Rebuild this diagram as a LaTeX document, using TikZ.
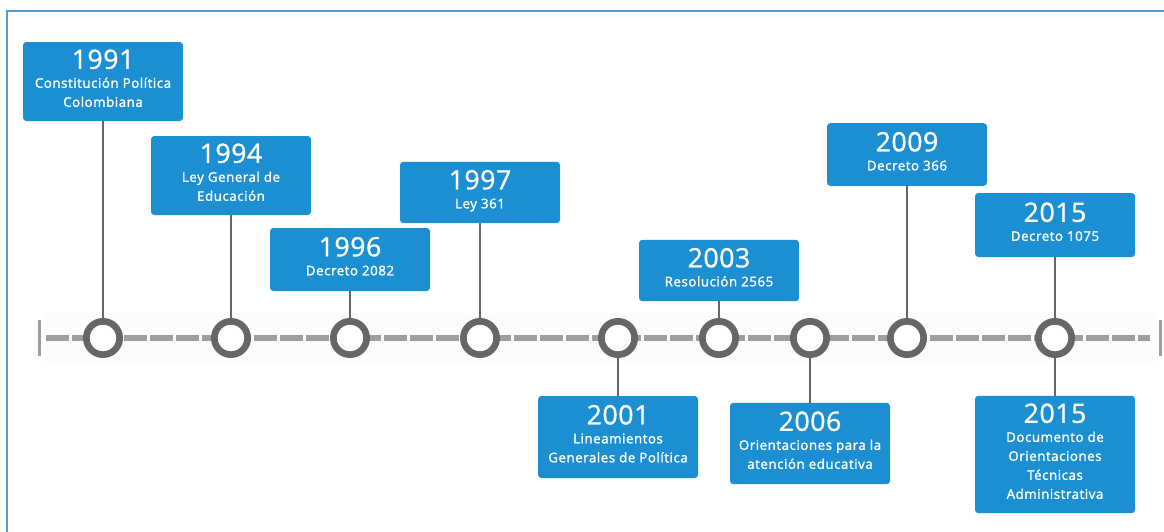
\documentclass[tikz,border=0pt]{standalone}
\usepackage{fontspec}
\setmainfont{Open Sans}
\newfontfamily\letraanio{Open Sans}[FakeBold=1.1, LetterSpace=2]
\newfontfamily\letracaja{Open Sans}[FakeBold=1.6, LetterSpace=4]
\usetikzlibrary{positioning}
\definecolor{azul}{RGB}{27,143,209}
\definecolor{gris}{RGB}{158,158,158}
\definecolor{grisosc}{RGB}{102,102,102}
\definecolor{marco}{RGB}{91,155,213}
\newcommand{\anio}[1]{{\fontsize{20}{22}\letraanio\selectfont #1}}
\tikzset{
    caja/.style={
           rectangle,
           rounded corners=2.5pt,
           fill=azul, text=white,
           minimum width=120pt,
           inner sep=2pt,
           align=center,
           execute at end node={\rule[-5pt]{0pt}{0pt}},
           font=\fontsize{10}{14.25}\letracaja\selectfont},
    punto/.style={
           circle,
           draw=grisosc, line width=5pt,
           fill=white,
           minimum size=25pt,
           inner sep=0pt},
    tallo/.style={
           draw=grisosc,
           line width=1.5pt}
}

\begin{document}
\begin{tikzpicture}[x=0.75pt, y=-0.75pt]
        \useasboundingbox (0,0) rectangle (1164,532);
        \draw[marco, line width=1.5pt] (7,532) |- (1164,11);

        % linea de tiempo
        \fill[black!1.2] (44,313) rectangle (1158,362);
        \coordinate (ini) at (46,338);
        \coordinate (fin) at (1150,338);
        \draw[gris, line width=4.5pt, dash pattern=on 17.25pt off 2.25pt] (ini) -- (fin);
        \draw[gris, line width=2.25pt] (39.5,320) -- (39.5,356);
        \draw[gris, line width=2.25pt] (1160.5,320) -- (1160.5,356);

        \node[caja, minimum height=59.25pt] (a91) at (103,81.5) {\anio{1991}\\Constitución Política\\Colombiana};
        \node[caja, minimum height=59.25pt] (a94) at (231,175.5) {\anio{1994}\\Ley General de\\Educación};
        \node[caja, minimum height=47.25pt] (a96) at (350,259.5) {\anio{1996}\\Decreto 2082};
        \node[caja, minimum height=46pt] (a97) at (480,192.5) {\anio{1997}\\Ley 361};
        \node[caja, minimum height=61.5pt] (a01) at (618,437) {\anio{2001}\\Lineamientos\\Generales de Política};
        \node[caja, minimum height=46pt] (a03) at (719,270.5) {\anio{2003}\\Resolución 2565};
        \node[caja, minimum height=61pt] (a06) at (810,443.5) {\anio{2006}\\Orientaciones para la\\atención educativa};
        \node[caja, minimum height=47pt] (a09) at (907,154.5) {\anio{2009}\\Decreto 366};
        \node[caja, minimum height=48pt] (a15) at (1055,225) {\anio{2015}\\Decreto 1075};
        \node[caja, minimum height=88pt] (b15) at (1055,454.5) {\anio{2015}\\Documento de\\Orientaciones\\Técnicas\\Administrativa};

        \node[punto] (c91) at (103,338) {};
        \node[punto] (c94) at (231,338) {};
        \node[punto] (c96) at (350,338) {};
        \node[punto] (c97) at (480,338) {};
        \node[punto] (c01) at (618,338) {};
        \node[punto] (c03) at (719,338) {};
        \node[punto] (c06) at (810,338) {};
        \node[punto] (c09) at (907,338) {};
        \node[punto] (c15) at (1055,338) {};

        \draw[tallo] (c91) -- (a91);
        \draw[tallo] (c94) -- (a94);
        \draw[tallo] (c96) -- (a96);
        \draw[tallo] (c97) -- (a97);
        \draw[tallo] (c01) -- (a01);
        \draw[tallo] (c03) -- (a03);
        \draw[tallo] (c06) -- (a06);
        \draw[tallo] (c09) -- (a09);
        \draw[tallo] (c15) -- (a15);
        \draw[tallo] (c15) -- (b15);
\end{tikzpicture}
\end{document}
